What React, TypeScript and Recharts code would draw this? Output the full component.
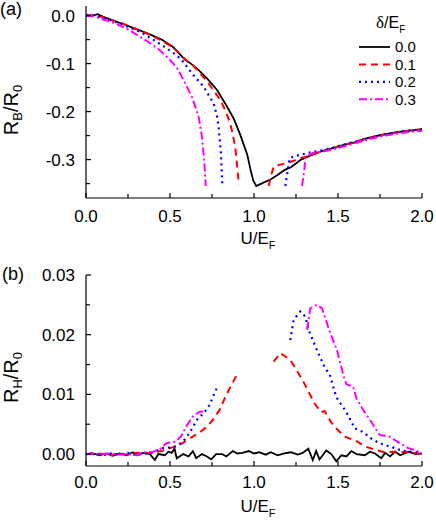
import React from 'react';
import { LineChart, Line, XAxis, YAxis, Legend, Label } from 'recharts';

type Pt = [number, number | null];

// ---------- categories / tick labels ----------
const deltaValues = ['0.0', '0.1', '0.2', '0.3'];
const uTicks = [0, 0.25, 0.5, 0.75, 1, 1.25, 1.5, 1.75, 2];
const rbTicks = [0, -0.05, -0.1, -0.15, -0.2, -0.25, -0.3, -0.35];
const rhTicks = [0, 0.005, 0.01, 0.015, 0.02, 0.025, 0.03];

// ---------- panel (a): R_B/R_0 vs U/E_F ----------
const rb00: Pt[] = [
  [0, 0], [0.03, -0.001], [0.07, 0.003], [0.1, -0.002], [0.15, -0.009], [0.22, -0.0175],
  [0.3, -0.028], [0.38, -0.039], [0.45, -0.05], [0.52, -0.066], [0.59, -0.092], [0.62, -0.099],
  [0.66, -0.11], [0.72, -0.131], [0.78, -0.155], [0.84, -0.19], [0.88, -0.215], [0.92, -0.25],
  [0.96, -0.29], [0.98, -0.322], [0.995, -0.343], [1.013, -0.355], [1.05, -0.349], [1.1, -0.341],
  [1.14, -0.332], [1.18, -0.322], [1.22, -0.316], [1.28, -0.3], [1.34, -0.291], [1.4, -0.283],
  [1.47, -0.276], [1.53, -0.27], [1.6, -0.264], [1.67, -0.256], [1.74, -0.25], [1.8, -0.246],
  [1.87, -0.242], [1.94, -0.239], [2, -0.237],
];
const rb01: Pt[] = [
  [0, 0.002], [0.05, 0], [0.1, -0.003], [0.15, -0.009], [0.22, -0.017], [0.3, -0.028],
  [0.38, -0.04], [0.45, -0.052], [0.52, -0.067], [0.6, -0.094], [0.64, -0.105], [0.68, -0.12],
  [0.72, -0.137], [0.76, -0.156], [0.8, -0.176], [0.83, -0.198], [0.858, -0.224], [0.875, -0.25],
  [0.888, -0.273], [0.9, -0.315], [0.91, -0.352], [1.0, null], [1.087, -0.355], [1.1, -0.335],
  [1.117, -0.315], [1.15, -0.311], [1.196, -0.307], [1.24, -0.302], [1.276, -0.297], [1.33, -0.292],
  [1.4, -0.283], [1.47, -0.276], [1.53, -0.27], [1.6, -0.263], [1.67, -0.256], [1.74, -0.25],
  [1.8, -0.246], [1.87, -0.242], [1.94, -0.239], [2, -0.237],
];
const rb02: Pt[] = [
  [0, 0.001], [0.05, 0], [0.1, -0.004], [0.15, -0.01], [0.22, -0.019], [0.32, -0.0335],
  [0.4, -0.05], [0.48, -0.068], [0.54, -0.083], [0.57, -0.0925], [0.63, -0.12], [0.7, -0.148],
  [0.76, -0.183], [0.78, -0.21], [0.789, -0.231], [0.803, -0.287], [0.812, -0.355], [1.0, null],
  [1.186, -0.355], [1.2, -0.325], [1.212, -0.297], [1.24, -0.293], [1.276, -0.29], [1.335, -0.285],
  [1.4, -0.281], [1.47, -0.275], [1.53, -0.269], [1.6, -0.263], [1.67, -0.256], [1.74, -0.25],
  [1.8, -0.246], [1.87, -0.242], [1.94, -0.239], [2, -0.237],
];
const rb03: Pt[] = [
  [0, 0], [0.05, -0.002], [0.083, -0.006], [0.15, -0.013], [0.243, -0.027], [0.32, -0.044],
  [0.38, -0.057], [0.44, -0.072], [0.5, -0.0925], [0.54, -0.108], [0.58, -0.134], [0.63, -0.169],
  [0.67, -0.21], [0.69, -0.252], [0.703, -0.3], [0.713, -0.355], [1.0, null], [1.286, -0.355],
  [1.3, -0.32], [1.306, -0.297], [1.33, -0.29], [1.355, -0.285], [1.4, -0.284], [1.47, -0.279],
  [1.53, -0.273], [1.6, -0.266], [1.67, -0.259], [1.74, -0.253], [1.8, -0.249], [1.87, -0.245],
  [1.94, -0.242], [2, -0.24],
];

// ---------- panel (b): R_H/R_0 vs U/E_F ----------
const rh00: Pt[] = [
  [0, 0], [0.04, 0.0001], [0.08, -0.0002], [0.12, 0.0001], [0.16, -0.0003], [0.2, 0.0001],
  [0.24, -0.0002], [0.28, 0.0003], [0.3, -0.0002], [0.34, 0.0002], [0.38, 0], [0.41, -0.001],
  [0.43, 0], [0.47, -0.0002], [0.49, 0.0004], [0.51, 0.0002], [0.527, 0.0009], [0.54, -0.0007],
  [0.58, 0], [0.61, -0.0004], [0.636, 0.0005], [0.656, -0.0007], [0.69, 0], [0.72, -0.0004],
  [0.745, -0.0009], [0.775, 0], [0.81, 0], [0.835, -0.0004], [0.874, 0.0005], [0.9, 0.0001],
  [0.93, 0.0002], [0.97, 0.0005], [1.0, 0.0001], [1.03, 0.0003], [1.07, -0.0001], [1.1, 0.0003],
  [1.14, -0.0002], [1.18, 0.0001], [1.22, 0.0003], [1.26, -0.0001], [1.29, 0.0002], [1.323, 0.0009],
  [1.35, -0.001], [1.37, 0.0005], [1.39, -0.0009], [1.43, 0.0006], [1.46, 0], [1.49, -0.0012],
  [1.52, -0.0002], [1.55, -0.0004], [1.58, 0.0005], [1.61, 0], [1.66, -0.0002], [1.69, 0.0004],
  [1.72, 0.0001], [1.758, -0.0007], [1.78, 0.0002], [1.81, -0.0004], [1.84, 0.0004], [1.87, -0.0002],
  [1.92, 0.0004], [1.96, 0], [2, 0.0001],
];
const rh01: Pt[] = [
  [0, 0], [0.05, 0.0001], [0.1, 0], [0.15, -0.0002], [0.2, 0.0001], [0.25, -0.0001],
  [0.3, 0.0002], [0.35, 0.0001], [0.4, 0.0003], [0.45, 0.0005], [0.5, 0.001], [0.55, 0.0014],
  [0.6, 0.0023], [0.64, 0.003], [0.68, 0.0037], [0.72, 0.0046], [0.755, 0.0057], [0.795, 0.0074],
  [0.835, 0.0099], [0.865, 0.0115], [0.898, 0.0133], [1.0, null], [1.117, 0.0155], [1.157, 0.0169],
  [1.216, 0.0158], [1.276, 0.013], [1.3, 0.0118], [1.36, 0.0085], [1.4, 0.007], [1.42, 0.0072],
  [1.46, 0.0053], [1.49, 0.0043], [1.54, 0.0029], [1.6, 0.0023], [1.67, 0.0012], [1.72, 0.0007],
  [1.78, 0.0003], [1.85, 0.0004], [1.92, 0.0003], [2, 0],
];
const rh02: Pt[] = [
  [0, 0], [0.05, 0], [0.1, -0.0002], [0.15, 0.0001], [0.2, -0.0001], [0.25, 0.0002],
  [0.3, -0.0002], [0.35, 0.0001], [0.4, 0.0003], [0.457, 0.001], [0.5, 0.0011], [0.536, 0.0013],
  [0.58, 0.0022], [0.616, 0.0035], [0.666, 0.006], [0.7, 0.0068], [0.735, 0.0082], [0.765, 0.0102],
  [0.785, 0.0114], [1.0, null], [1.216, 0.0191], [1.236, 0.0225], [1.276, 0.0239], [1.306, 0.023],
  [1.325, 0.0208], [1.375, 0.0174], [1.415, 0.0149], [1.455, 0.013], [1.48, 0.0104], [1.5, 0.009],
  [1.53, 0.0079], [1.56, 0.0065], [1.6, 0.0043], [1.65, 0.0037], [1.698, 0.0026], [1.748, 0.0018],
  [1.818, 0.0012], [1.868, 0.0007], [1.918, 0.0004], [1.96, 0.0004], [2, 0],
];
const rh03: Pt[] = [
  [0, 0], [0.05, 0.0001], [0.1, 0], [0.15, 0.0001], [0.2, -0.0001], [0.25, 0],
  [0.3, -0.0002], [0.35, 0.0003], [0.4, 0.0004], [0.44, 0.0008], [0.477, 0.0018], [0.536, 0.0021],
  [0.566, 0.003], [0.596, 0.0046], [0.636, 0.0063], [0.676, 0.0071], [0.705, 0.0071], [1.0, null],
  [1.316, 0.0208], [1.335, 0.0244], [1.375, 0.025], [1.405, 0.0244], [1.455, 0.0202], [1.494, 0.0174],
  [1.534, 0.013], [1.55, 0.0117], [1.59, 0.0113], [1.61, 0.0093], [1.65, 0.0074], [1.698, 0.0054],
  [1.748, 0.0032], [1.808, 0.0029], [1.868, 0.0018], [1.918, 0.001], [1.967, 0.0006], [2, 0],
];

const rbSeries = [rb00, rb01, rb02, rb03];
const rhSeries = [rh00, rh01, rh02, rh03];

// ---------- styles ----------
const FONT = '"Liberation Sans", Arial, sans-serif';
const lineStyles = [
  { color: '#000000', dash: undefined as string | undefined, width: 1.8 },
  { color: '#ff0000', dash: '7 5', width: 2 },
  { color: '#0000ff', dash: '2 4', width: 2.2 },
  { color: '#ff00ff', dash: '8 3 2 3', width: 2 },
];

const toData = (pts: Pt[]) => pts.map(([u, v]) => ({ u, v }));

const isMajor = (v: number, step: number) => {
  const k = v / step;
  return Math.abs(k - Math.round(k)) < 1e-6;
};

const makeXTick = (gap: number) => (props: any) => {
  const { x, y, payload } = props;
  const v = payload.value as number;
  const major = isMajor(v, 0.5);
  return (
    <g>
      <line x1={x} x2={x} y1={y} y2={y - (major ? 5 : 4)} stroke="#000" strokeWidth={1.2} />
      {major && (
        <text x={x} y={y + gap} textAnchor="middle" fontSize={17} fill="#000" fontFamily={FONT}>
          {v.toFixed(1)}
        </text>
      )}
    </g>
  );
};

const makeYTick = (step: number, digits: number) => (props: any) => {
  const { x, y, payload } = props;
  const v = payload.value as number;
  const major = isMajor(v, step);
  return (
    <g>
      <line x1={x} x2={x + (major ? 5 : 4)} y1={y} y2={y} stroke="#000" strokeWidth={1.2} />
      {major && (
        <text x={x - 11} y={y + 6} textAnchor="end" fontSize={17} fill="#000" fontFamily={FONT}>
          {v.toFixed(digits)}
        </text>
      )}
    </g>
  );
};

const xTitle = (gap: number) => (p: any) => {
  const vb = p.viewBox || {};
  return (
    <text x={vb.x + vb.width / 2 + 4} y={vb.y + gap} textAnchor="middle" fontSize={17} fill="#000" fontFamily={FONT}>
      U/E<tspan fontSize={11} dy={5}>F</tspan>
    </text>
  );
};

const yTitle = (sub: string, shift: number, letter: string, lx: number, ly: number) => (p: any) => {
  const vb = p.viewBox || {};
  const cx = 18;
  const cy = vb.y + vb.height / 2 + shift;
  return (
    <g>
      <text x={lx} y={ly} fontSize={18} fill="#000" fontFamily={FONT}>{letter}</text>
      <text x={cx} y={cy} transform={`rotate(-90, ${cx}, ${cy})`} textAnchor="middle" fontSize={20} fill="#000" fontFamily={FONT}>
        R<tspan fontSize={13} dy={4}>{sub}</tspan>
        <tspan dy={-4}>/R</tspan>
        <tspan fontSize={13} dy={4}>0</tspan>
      </text>
    </g>
  );
};

const LegendBox = () => (
  <svg width={86} height={100} style={{ overflow: 'visible', display: 'block' }}>
    <text x={26} y={20} fontSize={16} fill="#000" fontFamily={FONT}>
      <tspan fontFamily='"Liberation Serif", serif' fontSize={17}>δ</tspan>/E
      <tspan fontSize={10} dy={5}>F</tspan>
    </text>
    {deltaValues.map((d, i) => {
      const yy = 39 + i * 17.4;
      const s = lineStyles[i];
      return (
        <g key={d}>
          <line x1={9} x2={40} y1={yy} y2={yy} stroke={s.color} strokeWidth={s.width} strokeDasharray={s.dash} />
          <text x={45} y={yy + 5.4} fontSize={15} fill="#000" fontFamily={FONT}>{d}</text>
        </g>
      );
    })}
  </svg>
);

const axisLine = { stroke: '#000', strokeWidth: 1.2 };

export default function App() {
  return (
    <div style={{ position: 'absolute', left: 0, top: 0, width: 436, height: 523, background: '#fff', fontFamily: FONT }}>
      <div style={{ position: 'absolute', left: 0, top: 0 }}>
        <LineChart width={436} height={255} margin={{ top: 6, right: 14, bottom: 0, left: 0 }}>
          <XAxis
            dataKey="u" type="number" domain={[0, 2]} ticks={uTicks} interval={0}
            tickSize={0} tickMargin={0} tickLine={false} tick={makeXTick(24)} axisLine={axisLine}
            height={57} allowDataOverflow
          >
            <Label content={xTitle(46)} />
          </XAxis>
          <XAxis xAxisId="top" orientation="top" type="number" domain={[0, 2]} tick={false} tickLine={false} height={0} axisLine={axisLine} />
          <YAxis
            type="number" domain={[-0.38, 0.02]} ticks={rbTicks} interval={0}
            tickSize={0} tickMargin={0} tickLine={false} tick={makeYTick(0.1, 1)} axisLine={axisLine}
            width={86} allowDataOverflow
          >
            <Label content={yTitle('B', 8, '(a)', 0, 15)} />
          </YAxis>
          <YAxis yAxisId="right" orientation="right" type="number" domain={[0, 1]} tick={false} tickLine={false} width={0} axisLine={axisLine} />
          {rbSeries.map((s, i) => (
            <Line
              key={`a${i}`} data={toData(s)} dataKey="v" type="linear" name={deltaValues[i]}
              stroke={lineStyles[i].color} strokeWidth={lineStyles[i].width} strokeDasharray={lineStyles[i].dash}
              dot={false} activeDot={false} isAnimationActive={false} connectNulls={false}
            />
          ))}
          <Legend
            content={LegendBox} layout="vertical" align="center" verticalAlign="middle"
            wrapperStyle={{ left: 350, top: 8, width: 86, height: 100 }}
          />
        </LineChart>
      </div>
      <div style={{ position: 'absolute', left: 0, top: 262 }}>
        <LineChart width={436} height={261} margin={{ top: 13, right: 14, bottom: 0, left: 0 }}>
          <XAxis
            dataKey="u" type="number" domain={[0, 2]} ticks={uTicks} interval={0}
            tickSize={0} tickMargin={0} tickLine={false} tick={makeXTick(21.5)} axisLine={axisLine}
            height={57} allowDataOverflow
          >
            <Label content={xTitle(46)} />
          </XAxis>
          <XAxis xAxisId="top" orientation="top" type="number" domain={[0, 2]} tick={false} tickLine={false} height={0} axisLine={axisLine} />
          <YAxis
            type="number" domain={[-0.002, 0.03]} ticks={rhTicks} interval={0}
            tickSize={0} tickMargin={0} tickLine={false} tick={makeYTick(0.01, 2)} axisLine={axisLine}
            width={86} allowDataOverflow
          >
            <Label content={yTitle('H', 7, '(b)', 2, 17.5)} />
          </YAxis>
          <YAxis yAxisId="right" orientation="right" type="number" domain={[0, 1]} tick={false} tickLine={false} width={0} axisLine={axisLine} />
          {rhSeries.map((s, i) => (
            <Line
              key={`b${i}`} data={toData(s)} dataKey="v" type="linear" name={deltaValues[i]}
              stroke={lineStyles[i].color} strokeWidth={lineStyles[i].width} strokeDasharray={lineStyles[i].dash}
              dot={false} activeDot={false} isAnimationActive={false} connectNulls={false}
            />
          ))}
        </LineChart>
      </div>
    </div>
  );
}
